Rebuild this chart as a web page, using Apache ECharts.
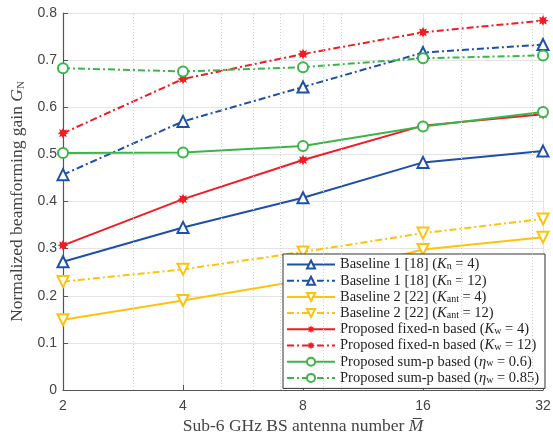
<!DOCTYPE html>
<html>
<head>
<meta charset="utf-8">
<script src="https://cdn.jsdelivr.net/npm/echarts@6/dist/echarts.min.js"></script>
<style>
    html, body { margin: 0; padding: 0; background: #fff; }
    #chart { width: 553px; height: 433px; }
</style>
</head>
<body>
<div id="chart"></div>
<script>
var antennas = [2, 4, 8, 16, 32];
var minorTicks = [3, 5, 6, 7, 9, 10, 20, 30];

var baseline1K4 = [0.272, 0.345, 0.408, 0.483, 0.507];
var baseline1K12 = [0.457, 0.570, 0.643, 0.716, 0.733];
var baseline2K4 = [0.149, 0.190, 0.233, 0.298, 0.324];
var baseline2K12 = [0.230, 0.256, 0.293, 0.333, 0.363];
var fixedK4 = [0.307, 0.405, 0.488, 0.561, 0.585];
var fixedK12 = [0.545, 0.660, 0.713, 0.759, 0.784];
var sumP06 = [0.503, 0.504, 0.518, 0.559, 0.590];
var sumP085 = [0.683, 0.676, 0.685, 0.704, 0.710];

var BLUE = '#1f4fa6', YELLOW = '#ffc20e', RED = '#ee1c25', GREEN = '#3bb54a';
var dashDot = [7, 3, 2, 3];

// asterisk-like marker
var star = 'path://';
for (var k = 0; k < 16; k++) {
    var r = k % 2 ? 5.5 : 10, a = k * Math.PI / 8 - Math.PI / 2;
    star += (k ? 'L' : 'M') + (r * Math.cos(a)).toFixed(2) + ',' + (r * Math.sin(a)).toFixed(2);
}
star += 'Z';

function pairs(vals) {
    return antennas.map(function (m, i) { return [m, vals[i]]; });
}

function line(name, vals, color, dashed, symbol) {
    var hollow = symbol !== 'star';
    return {
        name: name,
        type: 'line',
        data: pairs(vals),
        symbol: symbol === 'star' ? star : (symbol === 'down' ? 'triangle' : symbol),
        symbolRotate: symbol === 'down' ? 180 : 0,
        symbolSize: symbol === 'star' ? 11 : (symbol === 'circle' ? 10 : 11),
        showAllSymbol: true,
        lineStyle: { color: color, width: 2, type: dashed ? dashDot : 'solid' },
        itemStyle: hollow
            ? { color: '#fff', borderColor: color, borderWidth: 2 }
            : { color: color, borderColor: color, borderWidth: 0 },
        emphasis: { disabled: true },
        z: 3
    };
}

var labels = {
    b1a: 'Baseline 1 [18] ({i|K}{s|n} = 4)',
    b1b: 'Baseline 1 [18] ({i|K}{s|n} = 12)',
    b2a: 'Baseline 2 [22] ({i|K}{s|ant} = 4)',
    b2b: 'Baseline 2 [22] ({i|K}{s|ant} = 12)',
    pfa: 'Proposed fixed-n based ({i|K}{s|w} = 4)',
    pfb: 'Proposed fixed-n based ({i|K}{s|w} = 12)',
    psa: 'Proposed sum-p based ({i|η}{s|w} = 0.6)',
    psb: 'Proposed sum-p based ({i|η}{s|w} = 0.85)'
};

var serif = 'Liberation Serif';
var richText = {
    i: { fontFamily: serif, fontStyle: 'italic', fontSize: 14.5, color: '#222' },
    s: { fontFamily: serif, fontSize: 10, color: '#222', verticalAlign: 'bottom', padding: [5, 0, 0, 0] }
};

var chart = echarts.init(document.getElementById('chart'));
chart.setOption({
    animation: false,
    grid: { left: 63, right: 10, top: 13, bottom: 43, outerBoundsMode: 'none', containLabel: false },
    xAxis: {
        type: 'log',
        logBase: 2,
        min: 2,
        max: 32,
        name: 'Sub-6 GHz BS antenna number {i|M\u0305}',
        nameLocation: 'middle',
        nameGap: 20,
        nameTextStyle: {
            fontFamily: serif, fontSize: 17.5, color: '#444',
            rich: { i: { fontFamily: serif, fontStyle: 'italic', fontSize: 17.5, color: '#444' } }
        },
        axisLine: { lineStyle: { color: '#555', width: 1.2 } },
        axisTick: { inside: true, length: 5, lineStyle: { color: '#555' } },
        axisLabel: { fontFamily: 'Liberation Sans', fontSize: 14, color: '#444', margin: 9 },
        splitLine: { show: true, lineStyle: { color: '#e3e3e3' } }
    },
    yAxis: {
        type: 'value',
        min: 0,
        max: 0.8,
        interval: 0.1,
        name: 'Normalized beamforming gain {i|G}{s|N}',
        nameLocation: 'middle',
        nameGap: 30,
        nameTextStyle: {
            fontFamily: serif, fontSize: 17.5, color: '#444',
            rich: {
                i: { fontFamily: serif, fontStyle: 'italic', fontSize: 17.5, color: '#444' },
                s: { fontFamily: serif, fontSize: 11, color: '#444', verticalAlign: 'bottom', padding: [6, 0, 0, 0] }
            }
        },
        axisLine: { show: true, lineStyle: { color: '#555', width: 1.2 } },
        axisTick: { show: true, inside: true, length: 5, lineStyle: { color: '#555' } },
        axisLabel: {
            fontFamily: 'Liberation Sans', fontSize: 14, color: '#444', margin: 6,
            formatter: function (v) { return v === 0 ? '0' : v.toFixed(1); }
        },
        splitLine: { lineStyle: { color: '#e3e3e3' } }
    },
    legend: {
        orient: 'vertical',
        left: 283,
        top: 254,
        data: Object.keys(labels),
        formatter: function (name) { return labels[name]; },
        itemWidth: 48,
        itemHeight: 10,
        itemGap: 1.2,
        padding: [3, 6, 3, 3],
        backgroundColor: '#fff',
        borderColor: '#333',
        borderWidth: 1,
        borderRadius: 0,
        textStyle: { fontFamily: serif, fontSize: 14.5, color: '#222', lineHeight: 14.2, rich: richText }
    },
    series: [
        {
            type: 'line',
            data: [],
            silent: true,
            z: 1,
            markLine: {
                silent: true,
                symbol: ['none', 'none'],
                label: { show: false },
                lineStyle: { color: '#d2d2d2', type: [1, 2], width: 1 },
                data: minorTicks.map(function (m) { return { xAxis: m }; })
            }
        },
        line('b1a', baseline1K4, BLUE, false, 'triangle'),
        line('b1b', baseline1K12, BLUE, true, 'triangle'),
        line('b2a', baseline2K4, YELLOW, false, 'down'),
        line('b2b', baseline2K12, YELLOW, true, 'down'),
        line('pfa', fixedK4, RED, false, 'star'),
        line('pfb', fixedK12, RED, true, 'star'),
        line('psa', sumP06, GREEN, false, 'circle'),
        line('psb', sumP085, GREEN, true, 'circle')
    ]
});
</script>
</body>
</html>
